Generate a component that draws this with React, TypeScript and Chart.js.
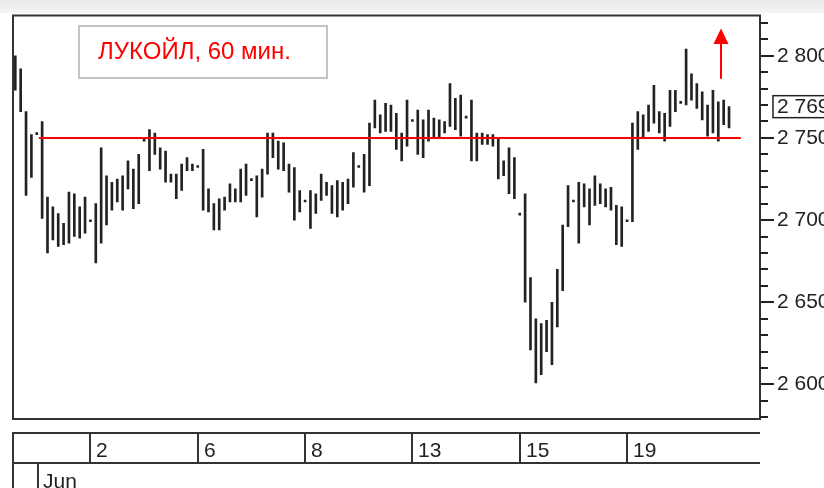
import { useEffect, useRef } from 'react';
import { Chart, registerables } from 'chart.js';

Chart.register(...registerables);

// ---- Data (hourly bars, LUKOIL) ----
// trading days covered, 10 hourly bars per day (first bar of each day is a single-price auction bar)
const sessionDays = ['31 May (tail)', '1', '2', '5', '6', '7', '8', '9', '13', '14', '15', '16', '19', '20'];

const barHigh = [
  2800, 2792, 2766, 2752,
  2752, 2760, 2714, 2708, 2704, 2698, 2717, 2716, 2708, 2714,
  2699, 2710, 2744, 2727, 2723, 2725, 2727, 2736, 2731, 2740,
  2748, 2755, 2753, 2744, 2742, 2728, 2728, 2734, 2738, 2734,
  2732, 2743, 2719, 2710, 2713, 2714, 2722, 2719, 2731, 2734,
  2724, 2727, 2731, 2753, 2753, 2748, 2747, 2734, 2732, 2718,
  2711, 2718, 2716, 2728, 2723, 2721, 2724, 2723, 2725, 2741,
  2732, 2740, 2759, 2773, 2764, 2771, 2770, 2765, 2753, 2773,
  2760, 2767, 2761, 2767, 2762, 2761, 2760, 2783, 2774, 2776,
  2762, 2773, 2753, 2753, 2752, 2752, 2750, 2736, 2744, 2738,
  2703, 2716, 2665, 2640, 2637, 2639, 2650, 2670, 2697, 2721,
  2711, 2723, 2722, 2719, 2727, 2722, 2719, 2720, 2709, 2708,
  2699, 2759, 2766, 2764, 2770, 2782, 2766, 2765, 2779, 2779,
  2771, 2804, 2789, 2783, 2778, 2770, 2779, 2772, 2773, 2769,
];

const barLow = [
  2779, 2766, 2715, 2726,
  2752, 2701, 2680, 2688, 2684, 2685, 2686, 2690, 2689, 2692,
  2699, 2674, 2686, 2697, 2706, 2711, 2706, 2719, 2707, 2710,
  2748, 2730, 2740, 2731, 2723, 2723, 2713, 2718, 2730, 2730,
  2732, 2706, 2705, 2694, 2694, 2706, 2711, 2711, 2711, 2715,
  2724, 2702, 2714, 2728, 2738, 2731, 2730, 2717, 2700, 2705,
  2711, 2695, 2704, 2712, 2715, 2704, 2702, 2706, 2710, 2720,
  2732, 2717, 2721, 2756, 2753, 2754, 2754, 2743, 2736, 2745,
  2760, 2740, 2738, 2748, 2750, 2750, 2753, 2757, 2755, 2751,
  2762, 2736, 2736, 2746, 2746, 2745, 2725, 2727, 2716, 2713,
  2703, 2650, 2621, 2601, 2606, 2620, 2612, 2635, 2657, 2696,
  2711, 2686, 2708, 2697, 2709, 2710, 2708, 2706, 2685, 2684,
  2699, 2699, 2743, 2750, 2754, 2759, 2753, 2748, 2757, 2766,
  2771, 2770, 2773, 2768, 2761, 2751, 2753, 2748, 2758, 2756,
];

const lastPrice = 2769;

// horizontal level (red line) and its span in bar-index units
const levelValue = 2750;
const levelFromIndex = 4.4;
const levelToIndex = 135.2;

// date axis: bar index where each labelled day starts
const dateTickIndex = [14, 34, 54, 74, 94, 114];
const dateTickLabels = ['2', '6', '8', '13', '15', '19'];
const monthTickIndex = [4];
const monthTickLabels = ['Jun'];

// price axis ticks
const yTickValues = [
  2580, 2590, 2600, 2610, 2620, 2630, 2640, 2650, 2660, 2670, 2680, 2690, 2700,
  2710, 2720, 2730, 2740, 2750, 2760, 2770, 2780, 2790, 2800, 2810, 2820,
];
const yMajorStep = 50;

const titleText = 'ЛУКОЙЛ, 60 мин.';

// arrow annotation (index / price units)
const arrowIndex = 131.45;
const arrowFrom = 2786;
const arrowTo = 2816.5;

// ---- layout ----
const W = 824;
const H = 488;
const PLOT_LEFT = 13;
const PLOT_TOP = 14;
const PLOT_RIGHT = 760;
const PLOT_BOTTOM = 419;
const X_MIN = -0.428;
const X_MAX = 138.77;
const Y_MIN = 2579.0;
const Y_MAX = 2824.4;
const FONT = '"Liberation Sans", Arial, sans-serif';
const INK = '#222';
const LINE = '#333';

function fmtPrice(v: number) {
  const th = Math.floor(v / 1000);
  const rest = String(Math.round(v - th * 1000)).padStart(3, '0');
  return `${th} ${rest}`;
}

const decorPlugin = {
  id: 'decor',
  beforeDraw(chart: any) {
    const ctx = chart.ctx;
    ctx.save();
    ctx.fillStyle = '#ffffff';
    ctx.fillRect(0, 0, W, H);
    const g = ctx.createLinearGradient(0, 0, 0, 13);
    g.addColorStop(0, '#e9e9e9');
    g.addColorStop(1, '#f4f4f4');
    ctx.fillStyle = g;
    ctx.fillRect(0, 0, W, 13);
    ctx.restore();
  },
  afterDraw(chart: any) {
    const ctx = chart.ctx;
    const xs = chart.scales.x;
    const ys = chart.scales.y;
    const ca = chart.chartArea;
    ctx.save();

    // frame (left, top, bottom); right border comes from the y axis
    ctx.strokeStyle = LINE;
    ctx.lineWidth = 2;
    ctx.beginPath();
    ctx.moveTo(ca.left, ca.top - 1);
    ctx.lineTo(ca.left, ca.bottom + 1);
    ctx.moveTo(ca.left - 1, ca.top);
    ctx.lineTo(ca.right + 1, ca.top);
    ctx.moveTo(ca.left - 1, ca.bottom);
    ctx.lineTo(ca.right + 1, ca.bottom);
    ctx.stroke();

    // minor ticks on the price axis
    ctx.strokeStyle = INK;
    ctx.lineWidth = 2;
    ctx.beginPath();
    yTickValues.forEach((v) => {
      if (v % yMajorStep === 0) return;
      const y = Math.round(ys.getPixelForValue(v));
      ctx.moveTo(ca.right, y);
      ctx.lineTo(ca.right + 8, y);
    });
    ctx.stroke();

    // last price box
    const yl = ys.getPixelForValue(lastPrice);
    ctx.fillStyle = '#fff';
    ctx.fillRect(773, yl - 11, 60, 22);
    ctx.strokeStyle = INK;
    ctx.lineWidth = 1.5;
    ctx.strokeRect(773, yl - 11, 60, 22);
    ctx.fillStyle = INK;
    ctx.font = `21px ${FONT}`;
    ctx.textAlign = 'left';
    ctx.textBaseline = 'middle';
    ctx.fillText(fmtPrice(lastPrice), 777, yl + 1);

    // title box
    ctx.fillStyle = '#fff';
    ctx.fillRect(79, 26, 248, 52);
    ctx.strokeStyle = '#c4c4c4';
    ctx.lineWidth = 2;
    ctx.strokeRect(79, 26, 248, 52);
    ctx.fillStyle = '#ff0000';
    ctx.font = `24px ${FONT}`;
    ctx.textAlign = 'left';
    ctx.textBaseline = 'alphabetic';
    ctx.fillText(titleText, 98, 59);

    // arrow
    const ax = Math.round(xs.getPixelForValue(arrowIndex));
    const ay0 = ys.getPixelForValue(arrowFrom);
    const ay1 = ys.getPixelForValue(arrowTo);
    ctx.strokeStyle = '#ff0000';
    ctx.fillStyle = '#ff0000';
    ctx.lineWidth = 2;
    ctx.beginPath();
    ctx.moveTo(ax, ay0);
    ctx.lineTo(ax, ay1 + 14);
    ctx.stroke();
    ctx.beginPath();
    ctx.moveTo(ax - 7.5, ay1 + 15.5);
    ctx.lineTo(ax + 7.5, ay1 + 15.5);
    ctx.lineTo(ax, ay1);
    ctx.closePath();
    ctx.fill();

    // date row
    const rowTop = 433;
    const rowBot = 463;
    ctx.strokeStyle = LINE;
    ctx.lineWidth = 2;
    ctx.beginPath();
    ctx.moveTo(ca.left - 1, rowTop);
    ctx.lineTo(ca.right, rowTop);
    ctx.moveTo(ca.left - 1, rowBot);
    ctx.lineTo(ca.right, rowBot);
    ctx.moveTo(ca.left, rowTop);
    ctx.lineTo(ca.left, H);
    dateTickIndex.forEach((idx) => {
      const x = Math.round(xs.getPixelForValue(idx));
      ctx.moveTo(x, rowTop);
      ctx.lineTo(x, rowBot);
    });
    monthTickIndex.forEach((idx) => {
      const x = Math.round(xs.getPixelForValue(idx)) + 1;
      ctx.moveTo(x, rowBot);
      ctx.lineTo(x, H);
    });
    ctx.stroke();

    ctx.fillStyle = INK;
    ctx.font = `21px ${FONT}`;
    ctx.textAlign = 'left';
    ctx.textBaseline = 'alphabetic';
    dateTickIndex.forEach((idx, i) => {
      const x = Math.round(xs.getPixelForValue(idx));
      ctx.fillText(dateTickLabels[i], x + 6, 457);
    });
    monthTickIndex.forEach((idx, i) => {
      const x = Math.round(xs.getPixelForValue(idx)) + 1;
      ctx.fillText(monthTickLabels[i], x + 5, 488);
    });

    ctx.restore();
  },
};

export default function App() {
  const ref = useRef<HTMLCanvasElement>(null);

  useEffect(() => {
    document.body.style.margin = '0';
    const canvas = ref.current;
    if (!canvas) return;

    const bars = barHigh.map((h, i) => ({ x: i, y: [barLow[i], h] }));

    const chart = new Chart(canvas, {
      type: 'bar',
      data: {
        labels: barHigh.map((_, i) => sessionDays[i < 4 ? 0 : 1 + Math.floor((i - 4) / 10)]),
        datasets: [
          {
            type: 'bar',
            data: bars as any,
            backgroundColor: INK,
            borderWidth: 0,
            barThickness: 2,
            minBarLength: 2,
            grouped: false,
            order: 2,
          } as any,
          {
            type: 'line',
            data: [
              { x: levelFromIndex, y: levelValue },
              { x: levelToIndex, y: levelValue },
            ] as any,
            borderColor: '#ff0000',
            borderWidth: 2,
            pointRadius: 0,
            tension: 0,
            order: 1,
          } as any,
        ],
      },
      plugins: [decorPlugin],
      options: {
        animation: false,
        responsive: false,
        maintainAspectRatio: false,
        devicePixelRatio: 1,
        events: [],
        layout: {
          padding: { left: PLOT_LEFT, top: PLOT_TOP, right: 0, bottom: H - PLOT_BOTTOM },
        },
        plugins: {
          legend: { display: false },
          tooltip: { enabled: false },
          title: { display: false },
        },
        scales: {
          x: {
            type: 'linear',
            min: X_MIN,
            max: X_MAX,
            offset: false,
            display: false,
          },
          y: {
            type: 'linear',
            position: 'right',
            min: Y_MIN,
            max: Y_MAX,
            afterBuildTicks: (s: any) => {
              s.ticks = yTickValues.map((v) => ({ value: v }));
            },
            afterFit: (s: any) => {
              s.width = W - PLOT_RIGHT;
            },
            ticks: {
              autoSkip: false,
              includeBounds: false,
              padding: 3,
              color: INK,
              font: { family: FONT, size: 21 },
              callback: (v: any) => (Number(v) % yMajorStep === 0 ? fmtPrice(Number(v)) : ''),
            },
            grid: {
              drawOnChartArea: false,
              drawTicks: true,
              tickLength: 14,
              lineWidth: 2,
              color: (c: any) =>
                c.tick && c.tick.value % yMajorStep === 0 ? INK : 'rgba(0,0,0,0)',
            },
            border: { display: true, color: LINE, width: 2 },
          },
        },
      } as any,
    });

    return () => chart.destroy();
  }, []);

  return (
    <div style={{ position: 'fixed', left: 0, top: 0, width: W, height: H, background: '#fff' }}>
      <canvas ref={ref} width={W} height={H} style={{ display: 'block', width: W, height: H }} />
    </div>
  );
}
